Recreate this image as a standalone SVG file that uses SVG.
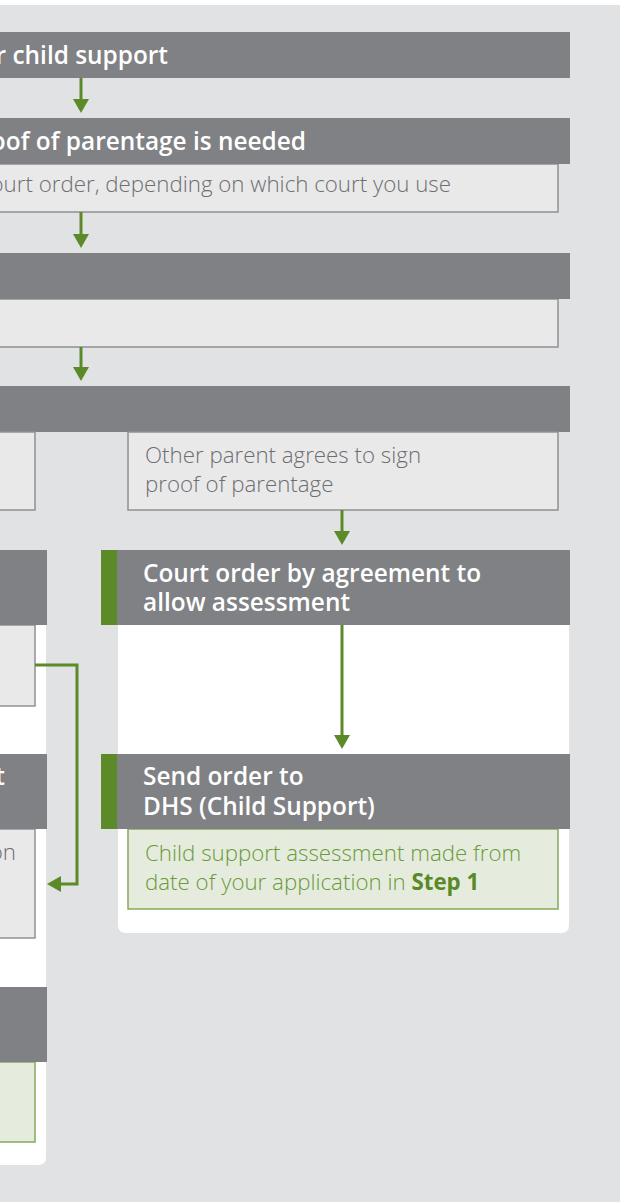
<svg xmlns="http://www.w3.org/2000/svg" width="620" height="1202" viewBox="0 0 620 1202">
<style>
.hdr{fill:#808184}
.body{fill:#e9e9ea;stroke:#8f9093;stroke-width:1.5}
.gbody{fill:#e5ecde;stroke:#86a85b;stroke-width:1.5}
.stripe{fill:#5c8a29}
.panel{fill:#ffffff}
.ht{font-family:"Open Sans","Liberation Sans",sans-serif;font-size:24.4px;font-weight:600;fill:#ffffff}
.bt{font-family:"Open Sans","Liberation Sans",sans-serif;font-size:22.3px;font-weight:300;fill:#6d6e71}
.gt{fill:#6a9a3b}
.gb{font-weight:700;fill:#5a8a27}
.conn{fill:none;stroke:#5c8a29;stroke-width:3;marker-end:url(#ah)}
</style>
<defs>
<marker id="ah" viewBox="0 0 14 16" refX="3" refY="8" markerWidth="14" markerHeight="16" markerUnits="userSpaceOnUse" orient="auto">
<path d="M0,0 L14,8 L0,16 z" fill="#5c8a29"/>
</marker>
</defs>
<rect x="0" y="0" width="620" height="1202" fill="#ffffff"/>
<rect x="0" y="5" width="620" height="1197" fill="#e1e2e4"/>
<path class="panel" d="M-10,550 H46 V1157 Q46,1165 38,1165 H-10 Z"/>
<path class="panel" d="M118,550 H569 V925 Q569,933 561,933 H126 Q118,933 118,925 Z"/>
<g id="node-apply">
<rect class="hdr" x="-10" y="32" width="580" height="46"/>
<text class="ht" x="168" y="64" text-anchor="end">r child support</text>
</g>
<g id="node-proof-needed">
<rect class="body" x="-10" y="164" width="568" height="48"/>
<rect class="hdr" x="-10" y="118" width="580" height="46"/>
<text class="ht" x="306" y="150" text-anchor="end">oof of parentage is needed</text>
<text class="bt" x="451" y="192" text-anchor="end">ourt order, depending on which court you use</text>
</g>
<g id="node-step3">
<rect class="body" x="-10" y="299" width="568" height="48"/>
<rect class="hdr" x="-10" y="253" width="580" height="46"/>
</g>
<g id="node-step4">
<rect class="hdr" x="-10" y="386" width="580" height="46"/>
</g>
<g id="node-left-a">
<rect class="body" x="-10" y="432" width="45" height="78"/>
</g>
<g id="node-agrees">
<rect class="body" x="128" y="432" width="430" height="78"/>
<text class="bt" x="145" y="463">Other parent agrees to sign</text>
<text class="bt" x="145" y="492">proof of parentage</text>
</g>
<g id="node-left-b">
<rect class="body" x="-10" y="625" width="45" height="81"/>
<rect class="hdr" x="-10" y="550" width="57" height="75"/>
</g>
<g id="node-court-order">
<rect class="stripe" x="101" y="550" width="16" height="75"/>
<rect class="hdr" x="117" y="550" width="453" height="75"/>
<text class="ht" x="143" y="582">Court order by agreement to</text>
<text class="ht" x="143" y="611">allow assessment</text>
</g>
<g id="node-left-c">
<rect class="body" x="-10" y="829" width="45" height="109"/>
<rect class="hdr" x="-10" y="754" width="57" height="75"/>
<text class="ht" x="5" y="785" text-anchor="end">t</text>
<text class="bt" x="16" y="860" text-anchor="end">on</text>
</g>
<g id="node-send-order">
<rect class="gbody" x="128" y="829" width="430" height="80"/>
<rect class="stripe" x="101" y="754" width="16" height="75"/>
<rect class="hdr" x="117" y="754" width="453" height="75"/>
<text class="ht" x="143" y="785">Send order to</text>
<text class="ht" x="143" y="815">DHS (Child Support)</text>
<text class="bt gt" x="145" y="861">Child support assessment made from</text>
<text class="bt gt" x="145" y="890">date of your application in <tspan class="gb">Step 1</tspan></text>
</g>
<g id="node-left-d">
<rect class="gbody" x="-10" y="1062" width="45" height="80"/>
<rect class="hdr" x="-10" y="987" width="57" height="75"/>
</g>
<g id="connectors">
<path class="conn" d="M81,78 V102"/>
<path class="conn" d="M81,212 V237"/>
<path class="conn" d="M81,347 V370"/>
<path class="conn" d="M342,510 V534"/>
<path class="conn" d="M342,625 V738"/>
<path class="conn" d="M35,665 H77 V884 H58"/>
</g>
</svg>
